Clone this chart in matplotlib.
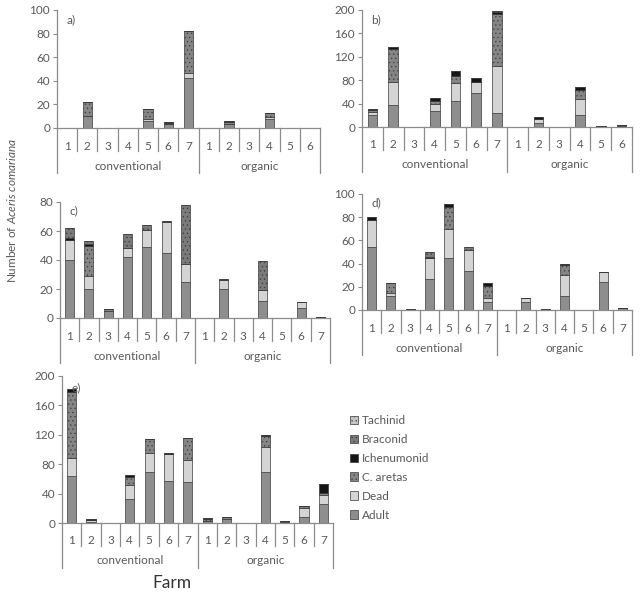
import matplotlib.pyplot as plt
import numpy as np
from matplotlib.patches import Patch
from matplotlib.transforms import blended_transform_factory

plt.rcParams['font.family'] = ['Lato', 'DejaVu Sans']
plt.rcParams['mathtext.fontset'] = 'custom'
plt.rcParams['mathtext.rm'] = 'Lato'
plt.rcParams['mathtext.it'] = 'Lato:italic'
plt.rcParams['hatch.linewidth'] = 0.4

series = ['Adult', 'Dead', 'C. aretas', 'Ichenumonid', 'Braconid', 'Tachinid']
colors = ['#8e8e8e', '#d4d4d4', '#858585', '#151515', '#7a7a7a', '#c4c4c4']
hatches = ['', '', '....', '', '....', '....']

farms13 = ['1', '2', '3', '4', '5', '6', '7', '1', '2', '3', '4', '5', '6']
farms14 = ['1', '2', '3', '4', '5', '6', '7', '1', '2', '3', '4', '5', '6', '7']
groups = ['conventional', 'organic']

# panel a
a_adult = [0, 10, 0, 0, 6, 3, 42, 0, 3, 0, 8, 0, 0]
a_dead = [0, 0, 0, 0, 2, 0, 5, 0, 0, 0, 1, 0, 0]
a_caretas = [0, 12, 0, 0, 8, 1, 35, 0, 2, 0, 4, 0, 0]
a_ich = [0, 0, 0, 0, 0, 1, 0, 0, 1, 0, 0, 0, 0]
a_brac = [0] * 13
a_tach = [0] * 13

# panel b
b_adult = [20, 38, 0, 27, 44, 58, 24, 0, 6, 0, 21, 1, 1]
b_dead = [5, 39, 0, 12, 31, 19, 80, 0, 8, 0, 27, 0, 1]
b_caretas = [4, 56, 0, 5, 13, 0, 90, 0, 0, 0, 16, 1, 1]
b_ich = [1, 3, 0, 6, 7, 7, 3, 0, 3, 0, 4, 0, 0]
b_brac = [0, 0, 0, 0, 0, 0, 1, 0, 0, 0, 0, 0, 0]
b_tach = [0] * 13

# panel c
c_adult = [40, 20, 5, 42, 49, 45, 25, 0, 20, 0, 12, 0, 7, 1]
c_dead = [14, 9, 0, 6, 12, 21, 12, 0, 6, 0, 7, 0, 4, 0]
c_caretas = [0, 21, 1, 0, 0, 0, 0, 0, 0, 0, 0, 0, 0, 0]
c_ich = [1, 1, 0, 0, 0, 0, 0, 0, 0, 0, 0, 0, 0, 0]
c_brac = [7, 2, 0, 10, 3, 1, 41, 0, 1, 0, 20, 0, 0, 0]
c_tach = [0] * 14

# panel d
d_adult = [54, 12, 1, 27, 45, 34, 7, 0, 7, 1, 12, 0, 24, 2]
d_dead = [24, 3, 0, 18, 25, 18, 3, 0, 3, 0, 18, 0, 9, 0]
d_caretas = [0, 8, 0, 0, 19, 0, 11, 0, 0, 0, 9, 0, 0, 0]
d_ich = [2, 0, 0, 1, 2, 0, 2, 0, 0, 0, 1, 0, 0, 0]
d_brac = [0, 0, 0, 4, 0, 2, 0, 0, 0, 0, 0, 0, 0, 0]
d_tach = [0] * 14

# panel e
e_adult = [64, 1, 0, 32, 69, 57, 56, 3, 6, 0, 69, 2, 8, 26]
e_dead = [24, 3, 0, 20, 26, 37, 30, 0, 0, 0, 34, 0, 12, 12]
e_caretas = [90, 0, 0, 10, 19, 0, 29, 3, 2, 0, 15, 1, 3, 3]
e_ich = [4, 1, 0, 3, 0, 1, 0, 1, 0, 0, 2, 0, 0, 12]
e_brac = [0] * 14
e_tach = [0] * 14

W, H = 640, 598
fig = plt.figure(figsize=(W / 100, H / 100), dpi=100)

grey = '#595959'
axis_col = '#8c8c8c'


def panel(box, letter, farms, data, ymax, ystep):
    x0, y0, x1, y1 = box  # pixel box: left, top(ymax), right, bottom(0)
    ax = fig.add_axes([x0 / W, 1 - y1 / H, (x1 - x0) / W, (y1 - y0) / H])
    n = len(farms)
    x = np.arange(n)
    bottom = np.zeros(n)
    for vals, col, h in zip(data, colors, hatches):
        vals = np.array(vals, dtype=float)
        ax.bar(x, vals, 0.47, bottom=bottom, color=col, edgecolor='#3a3a3a',
               linewidth=0.5, hatch=h)
        bottom += vals
    ax.set_xlim(-0.5, n - 0.5)
    ax.set_ylim(0, ymax)
    ax.set_yticks(np.arange(0, ymax + 1, ystep))
    ax.set_xticks([])
    ax.tick_params(axis='y', labelsize=8.5, colors=grey, length=3, width=0.8,
                   pad=2)
    ax.tick_params(axis='y', color=axis_col)
    for s in ['top', 'right']:
        ax.spines[s].set_visible(False)
    for s in ['left', 'bottom']:
        ax.spines[s].set_color(axis_col)
        ax.spines[s].set_linewidth(0.9)
    ax.patch.set_alpha(0)

    hpx = y1 - y0
    tr = blended_transform_factory(ax.transData, ax.transAxes)
    for i in range(n + 1):
        depth = 45 if i in (0, 7, n) else 23
        ax.plot([i - 0.5, i - 0.5], [0, -depth / hpx], transform=tr,
                clip_on=False, color=axis_col, lw=0.9)
    for i, lab in enumerate(farms):
        ax.text(i, -18 / hpx, lab, transform=tr, ha='center', va='center',
                fontsize=8.5, color=grey)
    ax.text(3, -38 / hpx, groups[0], transform=tr, ha='center', va='center',
            fontsize=8.5, color=grey)
    ax.text((7 + n - 1) / 2, -38 / hpx, groups[1], transform=tr, ha='center',
            va='center', fontsize=8.5, color=grey)
    ax.text(0.035, 0.92, letter, transform=ax.transAxes, fontsize=8.5,
            color=grey, ha='left', va='center')
    return ax


panel((57, 10, 320, 128), 'a)', farms13,
      [a_adult, a_dead, a_caretas, a_ich, a_brac, a_tach], 100, 20)
panel((362, 10, 632, 127), 'b)', farms13,
      [b_adult, b_dead, b_caretas, b_ich, b_brac, b_tach], 200, 40)
panel((60, 202, 330, 318), 'c)', farms14,
      [c_adult, c_dead, c_caretas, c_ich, c_brac, c_tach], 80, 20)
panel((362, 194, 632, 310), 'd)', farms14,
      [d_adult, d_dead, d_caretas, d_ich, d_brac, d_tach], 100, 20)
panel((62, 376, 333, 523), 'e)', farms14,
      [e_adult, e_dead, e_caretas, e_ich, e_brac, e_tach], 200, 40)

fig.text(12 / W, 1 - 210 / H, r'Number of $\it{Aceris\ comariana}$',
         rotation=90, ha='center', va='center', fontsize=8.5, color=grey)
fig.text(172 / W, 1 - 583 / H, 'Farm', ha='center', va='center',
         fontsize=12.5, color='#333333')

handles = [Patch(facecolor=c, edgecolor='#3a3a3a', linewidth=0.5, hatch=h,
                 label=s) for s, c, h in zip(series, colors, hatches)][::-1]
fig.legend(handles=handles, loc='upper left',
           bbox_to_anchor=(350 / W, 1 - 415 / H), borderaxespad=0,
           borderpad=0, frameon=False, fontsize=8.5, handlelength=0.7,
           handleheight=0.7, handletextpad=0.3, labelspacing=0.67,
           labelcolor=grey)

fig.savefig('out.png', dpi=100)
